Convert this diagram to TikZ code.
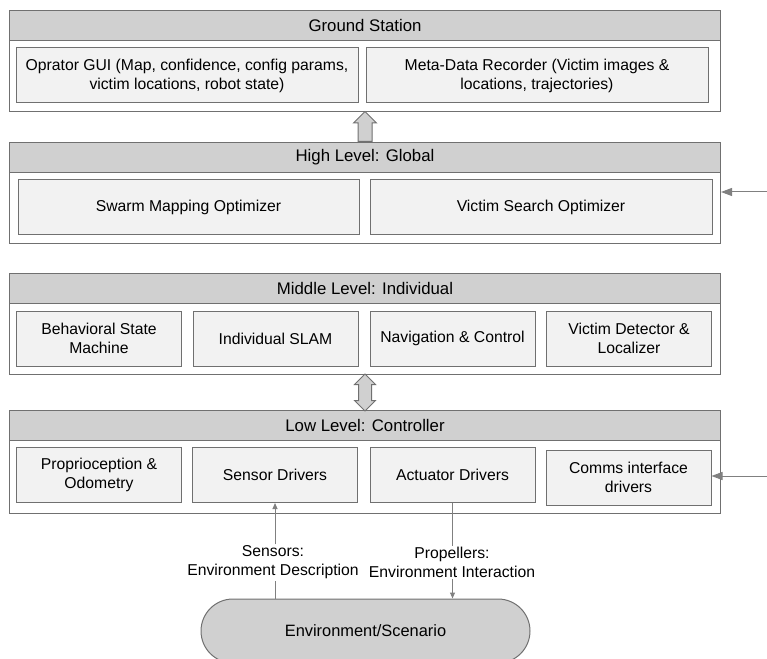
\documentclass[tikz,border=0pt]{standalone}
\usepackage{fontspec}
\setmainfont{Liberation Sans}
\usetikzlibrary{%
  arrows.meta,
  shapes.arrows,
  calc
}
\definecolor{hdrgray}{RGB}{208,208,208}
\definecolor{boxgray}{RGB}{242,242,242}
\definecolor{edgegray}{RGB}{112,112,112}
\definecolor{wiregray}{RGB}{128,128,128}
\def\px{0.75pt}
\tikzset{
  panel/.style={draw=edgegray, fill=white, line width=1*\px, minimum width=711*\px,
    minimum height=101*\px, anchor=north west, inner sep=0},
  header/.style={draw=edgegray, fill=hdrgray, line width=1*\px, minimum width=711*\px,
    minimum height=30*\px, anchor=north west, inner sep=0, font=\fontsize{12.6}{14.5}\selectfont},
  unit/.style={draw=edgegray, fill=boxgray, line width=1*\px, minimum height=55*\px,
    inner sep=0, align=center},
  wide unit/.style={unit, minimum width=342*\px},
  narrow unit/.style={unit, minimum width=165*\px},
  block arrow/.style={draw=edgegray, fill=hdrgray, line width=1*\px},
  wire/.style={draw=wiregray, line width=1*\px},
  wire tip/.style={-{Triangle[length=6*\px,width=5*\px]}},
  input tip/.style={-{Triangle[length=11*\px,width=8*\px]}},
  wire label/.style={align=center, inner sep=1pt},
}

\begin{document}
\begin{tikzpicture}[x=\px, y=-\px, font=\fontsize{11.8}{14.2}\selectfont]
\useasboundingbox (0,0) rectangle (767,659);

%%% ground station
\node[panel] (ground) at (9,10) {};
\node[header] (groundhdr) at (ground.north west) {Ground Station};
\node[wide unit] (gui) at (187,75.5) {Oprator GUI (Map, confidence, config params,\\victim locations, robot state)};
\node[wide unit] (recorder) at (537,75.5) {Meta-Data Recorder (Victim images \&\\locations, trajectories)};

%%% high level
\node[panel] (high) at (9,142) {};
\node[header] (highhdr) at (high.north west) {High Level: Global};
\node[wide unit, minimum width=341*\px] (swarm) at (188.5,207.5) {Swarm Mapping Optimizer};
\node[wide unit] (search) at (541,207.5) {Victim Search Optimizer};

%%% middle level
\node[panel] (middle) at (9,273) {};
\node[header] (middlehdr) at (middle.north west) {Middle Level: Individual};
\node[narrow unit] (behav) at (99,338.5) {Behavioral State\\Machine};
\node[narrow unit] (slam) at (275.5,338.5) {Individual SLAM};
\node[narrow unit] (nav) at (452.5,338.5) {Navigation \& Control};
\node[narrow unit] (detect) at (629,338.5) {Victim Detector \&\\Localizer};

%%% low level
\node[panel, minimum height=103*\px] (low) at (9,410) {};
\node[header] (lowhdr) at (low.north west) {Low Level: Controller};
\node[narrow unit] (propr) at (99,475) {Proprioception \&\\Odometry};
\node[narrow unit] (sensor) at (275,475) {Sensor Drivers};
\node[narrow unit] (act) at (452.5,475) {Actuator Drivers};
\node[narrow unit] (comms) at (628.5,477.5) {Comms interface\\drivers};

%%% environment
\node[draw=edgegray, fill=hdrgray, line width=1*\px, rounded corners=32*\px,
  minimum width=329*\px, minimum height=64*\px, font=\fontsize{12.3}{14.5}\selectfont]
  (env) at (365.5,631) {Environment/Scenario};

%%% block arrows between levels
\node[block arrow, single arrow, rotate=90, anchor=tail, inner sep=6.5*\px,
  minimum height=30*\px, single arrow head extend=4.5*\px] (uparrow) at (high.north) {};
\node[block arrow, double arrow, rotate=90, inner sep=6*\px,
  minimum height=37*\px, double arrow head extend=4*\px] (dblarrow)
  at ($(middle.south)!0.5!(low.north)$) {};

%%% inputs from the right
\coordinate (highin) at (767,192);
\coordinate (lowin) at (767,476);
\draw[wire, input tip] (highin) -- (highin -| high.east);
\draw[wire, input tip] (lowin) -- (lowin -| comms.east);

%%% sensors and propellers
\node[wire label] (senslbl) at (273,562.5) {Sensors:\\Environment Description};
\node[wire label] (proplbl) at (452,562.5) {Propellers:\\Environment Interaction};
\draw[wire] (env.north -| sensor.south) -- (senslbl.south -| sensor.south);
\draw[wire, wire tip] (senslbl.north -| sensor.south) -- (sensor.south);
\draw[wire] (act.south) -- (proplbl.north -| act.south);
\draw[wire, wire tip] (proplbl.south -| act.south) -- (env.north -| act.south);

\end{tikzpicture}
\end{document}
